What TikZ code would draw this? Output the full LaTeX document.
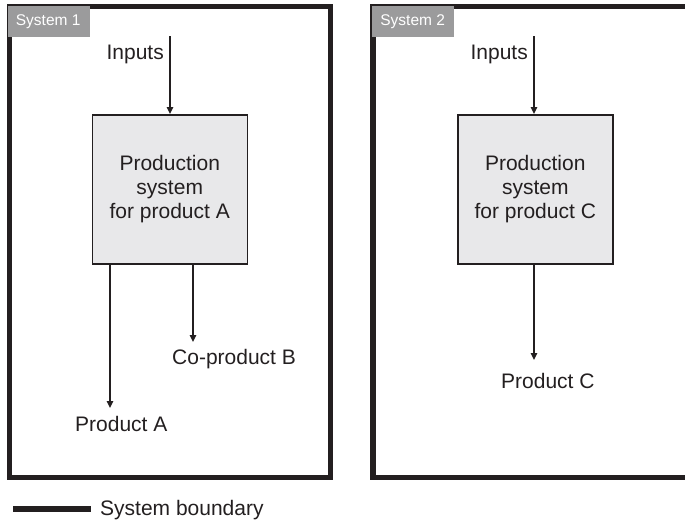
\documentclass[tikz,border=0pt]{standalone}
\usepackage{fontspec}
\setmainfont{Liberation Sans}
\usetikzlibrary{arrows.meta}
\definecolor{ink}{HTML}{231F20}
\definecolor{tagfill}{HTML}{9B9B9C}
\definecolor{boxfill}{HTML}{E8E8EA}
\tikzset{
  frameline/.style={draw=ink, line width=5.5pt},
  tagbox/.style={fill=tagfill, text=white, inner sep=0pt, anchor=north west,
    minimum width=82pt, minimum height=31pt, font=\fontsize{15.5}{18}\selectfont},
  prodbox/.style={draw=ink, fill=boxfill, line width=1.5pt, minimum width=155pt,
    minimum height=149pt, inner sep=0pt, align=center, text=ink,
    font=\fontsize{21}{24}\selectfont, anchor=north west},
  lbl/.style={text=ink, inner sep=0pt, font=\fontsize{21}{24}\selectfont},
  flow/.style={draw=ink, line width=1.5pt, -{Triangle[length=7pt,width=6.5pt]}}
}
\begin{document}
\begin{tikzpicture}[x=1pt,y=-1pt]
\useasboundingbox (0,0) rectangle (685,522);
\begin{scope}
\clip (0,0) rectangle (685,522);
% frames
\draw[frameline] (9.5,6.5) rectangle (330.5,477.5);
\draw[frameline] (373,6.5) rectangle (694,477.5);
% tags
\node[tagbox] (tag1) at (8,6) {\hspace*{-2pt}System 1};
\node[tagbox] (tag2) at (372,6) {\hspace*{-1pt}System 2};
\end{scope}
% production boxes
\node[prodbox] (pa) at (91.5,114) {Production\\system\\for product A};
\node[prodbox] (pc) at (457,114) {Production\\system\\for product C};
% labels
\node[lbl, anchor=base east] (in1) at (164,59) {Inputs};
\node[lbl, anchor=base east] (in2) at (528,59) {Inputs};
\node[lbl, anchor=base west] (cob) at (172,364) {Co-product B};
\node[lbl, anchor=base west] (proda) at (75,431) {Product A};
\node[lbl, anchor=base west] (prodc) at (501,388) {Product C};
% arrow ends
\coordinate (s1) at (170,36);
\coordinate (s2) at (534,36);
\coordinate (ea) at (110,408);
\coordinate (eb) at (193,342);
\coordinate (ec) at (534,360);
\draw[flow] (s1) -- (s1 |- pa.north);
\draw[flow] (s2) -- (s2 |- pc.north);
\draw[flow] (ea |- pa.south) -- (ea);
\draw[flow] (eb |- pa.south) -- (eb);
\draw[flow] (ec |- pc.south) -- (ec);
% legend
\coordinate (l1) at (13,508.5);
\coordinate (l2) at (91,508.5);
\draw[draw=ink, line width=6pt] (l1) -- (l2);
\node[lbl, anchor=base west] (leg) at (100,515) {System boundary};
\end{tikzpicture}
\end{document}
